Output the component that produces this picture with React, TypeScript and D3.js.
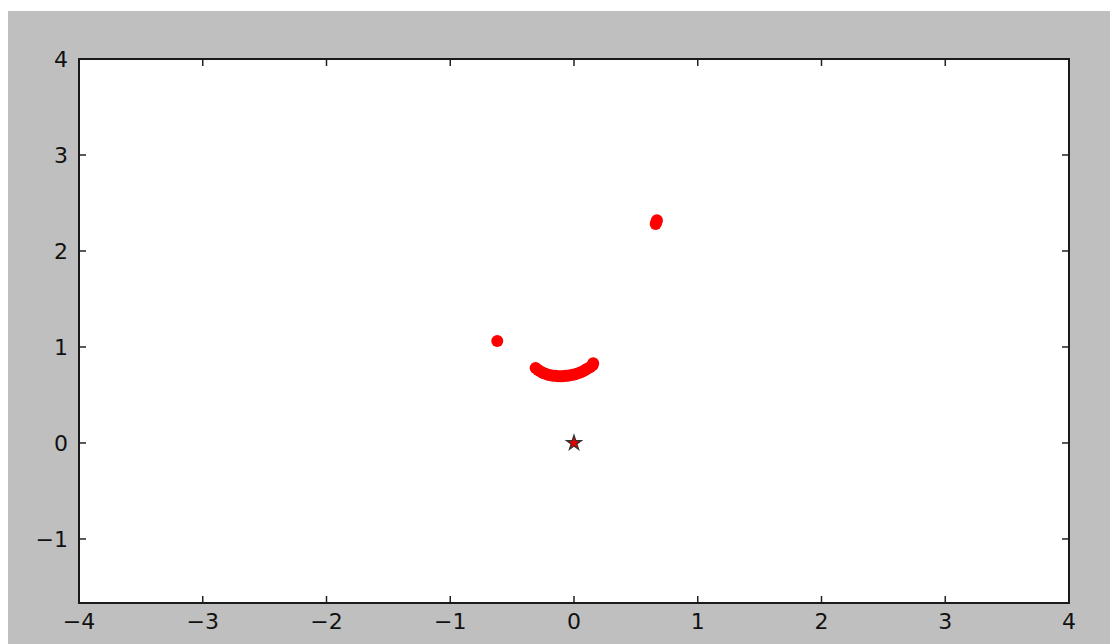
import { useEffect, useRef } from 'react';
import * as d3 from 'd3';

// data
const arcX = [-0.31, -0.29, -0.27, -0.25, -0.23, -0.21, -0.19, -0.17, -0.15, -0.13, -0.11, -0.09, -0.07, -0.05, -0.03, -0.01, 0.01, 0.03, 0.05, 0.07, 0.09, 0.11, 0.13, 0.15, 0.155];
const arcY = [0.78, 0.76, 0.745, 0.73, 0.72, 0.71, 0.705, 0.7, 0.7, 0.695, 0.695, 0.695, 0.7, 0.7, 0.705, 0.71, 0.715, 0.725, 0.735, 0.745, 0.76, 0.775, 0.79, 0.81, 0.83];
const extraX = [-0.62, 0.66, 0.665, 0.67];
const extraY = [1.062, 2.28, 2.3, 2.32];
const starPoint = [0, 0];
const xTicks = [-4, -3, -2, -1, 0, 1, 2, 3, 4];
const yTicks = [-1, 0, 1, 2, 3, 4];
const xDomain = [-4, 4];
const yDomain = [-1.667, 4];

export default function App() {
  const ref = useRef<SVGSVGElement>(null);

  useEffect(() => {
    if (!ref.current) return;
    const svg = d3.select(ref.current);
    svg.selectAll('*').remove();

    const W = 1110, H = 644;
    const left = 79, right = 1069, top = 59, bottom = 603;

    // gray figure background
    svg.append('rect')
      .attr('x', 8).attr('y', 11)
      .attr('width', W - 8).attr('height', H - 11)
      .attr('fill', '#bfbfbf');

    svg.append('rect')
      .attr('x', left).attr('y', top)
      .attr('width', right - left).attr('height', bottom - top)
      .attr('fill', '#fff');

    const x = d3.scaleLinear().domain(xDomain).range([left, right]);
    const y = d3.scaleLinear().domain(yDomain).range([bottom, top]);

    const pts = arcX.map((v, i) => ({ x: v, y: arcY[i] }))
      .concat(extraX.map((v, i) => ({ x: v, y: extraY[i] })));

    svg.append('g')
      .selectAll('circle')
      .data(pts)
      .enter()
      .append('circle')
      .attr('cx', d => x(d.x))
      .attr('cy', d => y(d.y))
      .attr('r', 6)
      .attr('fill', '#ff0000');

    svg.append('path')
      .attr('d', d3.symbol().type(d3.symbolStar).size(70)())
      .attr('transform', `translate(${x(starPoint[0])},${y(starPoint[1])})`)
      .attr('fill', '#e00000')
      .attr('stroke', '#333')
      .attr('stroke-width', 1.2);

    // inward ticks on all four sides
    const tk = 7;
    const ticks = svg.append('g').attr('stroke', '#222').attr('stroke-width', 1.5);
    xTicks.forEach(t => {
      ticks.append('line').attr('x1', x(t)).attr('x2', x(t)).attr('y1', bottom).attr('y2', bottom - tk);
      ticks.append('line').attr('x1', x(t)).attr('x2', x(t)).attr('y1', top).attr('y2', top + tk);
    });
    yTicks.forEach(t => {
      ticks.append('line').attr('x1', left).attr('x2', left + tk).attr('y1', y(t)).attr('y2', y(t));
      ticks.append('line').attr('x1', right).attr('x2', right - tk).attr('y1', y(t)).attr('y2', y(t));
    });

    svg.append('rect')
      .attr('x', left).attr('y', top)
      .attr('width', right - left).attr('height', bottom - top)
      .attr('fill', 'none')
      .attr('stroke', '#1a1a1a')
      .attr('stroke-width', 2);

    const fmt = (v: number) => (v < 0 ? '\u2212' + Math.abs(v) : String(v));
    const font = 'DejaVu Sans';

    svg.append('g')
      .selectAll('text')
      .data(xTicks)
      .enter()
      .append('text')
      .attr('x', d => x(d))
      .attr('y', bottom + 26)
      .attr('text-anchor', 'middle')
      .style('font-family', font)
      .style('font-size', '22px')
      .attr('fill', '#111')
      .text(d => fmt(d));

    svg.append('g')
      .selectAll('text')
      .data(yTicks)
      .enter()
      .append('text')
      .attr('x', left - 11)
      .attr('y', d => y(d))
      .attr('dy', '0.36em')
      .attr('text-anchor', 'end')
      .style('font-family', font)
      .style('font-size', '22px')
      .attr('fill', '#111')
      .text(d => fmt(d));
  }, []);

  return (
    <svg ref={ref} width={1110} height={644}
      style={{ position: 'absolute', left: 0, top: 0, display: 'block' }} />
  );
}
